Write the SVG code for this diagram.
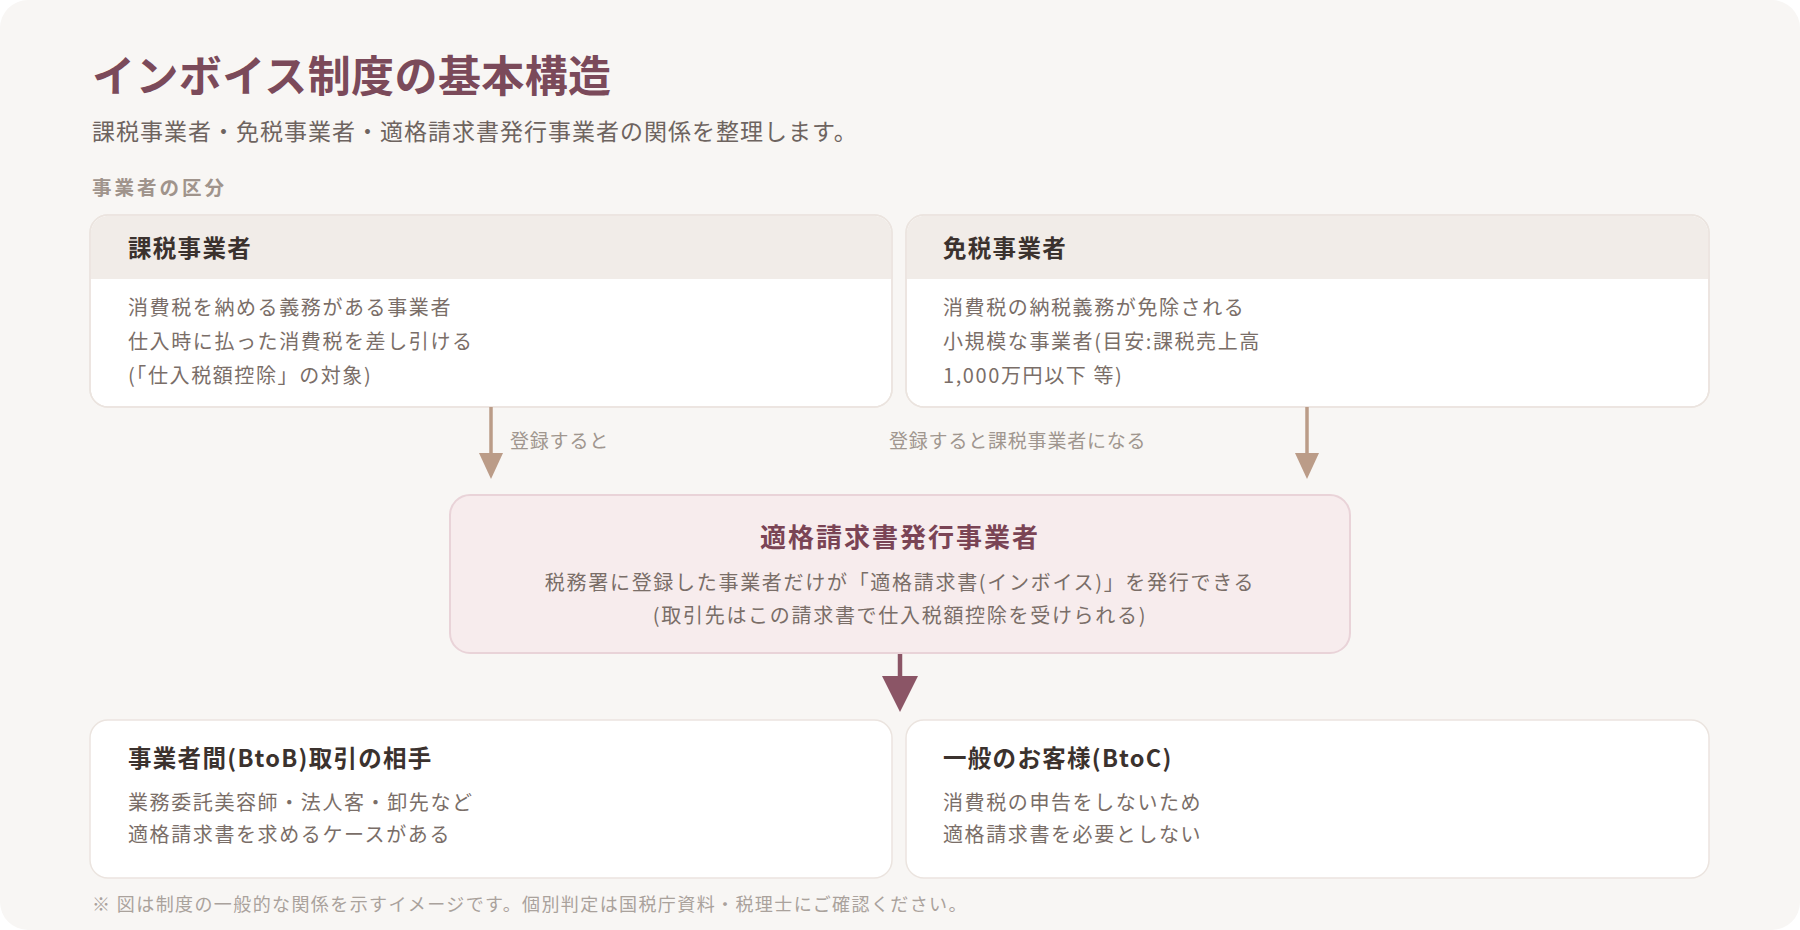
<svg xmlns="http://www.w3.org/2000/svg" width="1800" height="930" viewBox="0 0 1800 930">
  <defs>
    <style>
      text { font-family: "Noto Sans CJK JP", "Noto Sans", sans-serif; }
      .title { font-size: 43px; font-weight: 700; fill: #7b4a5a; letter-spacing: 0.4px; }
      .sub { font-size: 23px; fill: #6e6460; letter-spacing: 1px; }
      .sec { font-size: 19.5px; font-weight: 700; fill: #a0948c; letter-spacing: 3px; }
      .card { fill: #ffffff; stroke: #ebe4df; stroke-width: 1.5; }
      .band { fill: #f1ece8; }
      .head { font-size: 23.5px; font-weight: 700; fill: #3b322e; letter-spacing: 1.3px; }
      .body { font-size: 20px; fill: #7a6e68; letter-spacing: 1.6px; }
      .lbl { font-size: 19px; fill: #a0968f; letter-spacing: 0.8px; }
      .hub { fill: #f7eced; stroke: #e9d3d8; stroke-width: 2; }
      .hubt { font-size: 26px; font-weight: 700; fill: #7a4455; letter-spacing: 2px; }
      .hubb { font-size: 20px; fill: #7a6e68; letter-spacing: 1.7px; }
      .foot { font-size: 18px; fill: #aaa29c; letter-spacing: 1.4px; }
      .tan { stroke: #bb9c88; stroke-width: 3.5; fill: none; }
      .mauve { stroke: #8b5566; stroke-width: 4.5; fill: none; }
    </style>
    <marker id="tanHead" markerUnits="userSpaceOnUse" markerWidth="26" markerHeight="24" viewBox="0 0 26 24" refX="0" refY="12" orient="auto">
      <path d="M0,0 L26,12 L0,24 Z" fill="#bb9c88"/>
    </marker>
    <marker id="mauveHead" markerUnits="userSpaceOnUse" markerWidth="36" markerHeight="36" viewBox="0 0 36 36" refX="0" refY="18" orient="auto">
      <path d="M0,0 L36,18 L0,36 Z" fill="#8b5566"/>
    </marker>
  </defs>

  <rect x="0" y="0" width="1800" height="930" fill="#ffffff"/>
  <rect x="0" y="0" width="1800" height="930" rx="28" fill="#f8f6f4"/>

  <text class="title" x="92" y="92">インボイス制度の基本構造</text>
  <text class="sub" x="92" y="140">課税事業者・免税事業者・適格請求書発行事業者の関係を整理します。</text>
  <text class="sec" x="92" y="195">事業者の区分</text>

  <g id="node-taxable">
    <rect class="card" x="90" y="215" width="802" height="192" rx="18"/>
    <path class="band" d="M90.75,279 V233 A18,18 0 0 1 108,215.75 H874 A18,18 0 0 1 891.25,233 V279 Z"/>
    <rect x="90" y="215" width="802" height="192" rx="18" fill="none" stroke="#ebe4df" stroke-width="1.5"/>
    <text class="head" x="128" y="257">課税事業者</text>
    <text class="body" x="128" y="315">消費税を納める義務がある事業者</text>
    <text class="body" x="128" y="349">仕入時に払った消費税を差し引ける</text>
    <text class="body" x="128" y="383">(「仕入税額控除」の対象)</text>
  </g>

  <g id="node-exempt">
    <rect class="card" x="906" y="215" width="803" height="192" rx="18"/>
    <path class="band" d="M906.75,279 V233 A18,18 0 0 1 924,215.75 H1691 A18,18 0 0 1 1708.25,233 V279 Z"/>
    <rect x="906" y="215" width="803" height="192" rx="18" fill="none" stroke="#ebe4df" stroke-width="1.5"/>
    <text class="head" x="943" y="257">免税事業者</text>
    <text class="body" x="943" y="315">消費税の納税義務が免除される</text>
    <text class="body" x="943" y="349">小規模な事業者(目安:課税売上高</text>
    <text class="body" x="943" y="383">1,000万円以下 等)</text>
  </g>

  <g id="node-qualified">
    <rect class="hub" x="450" y="495" width="900" height="158" rx="20"/>
    <text class="hubt" x="900" y="547" text-anchor="middle">適格請求書発行事業者</text>
    <text class="hubb" x="900" y="590" text-anchor="middle">税務署に登録した事業者だけが「適格請求書(インボイス)」を発行できる</text>
    <text class="hubb" x="900" y="623" text-anchor="middle">(取引先はこの請求書で仕入税額控除を受けられる)</text>
  </g>

  <g id="node-btob">
    <rect class="card" x="90" y="720" width="802" height="158" rx="18"/>
    <text class="head" x="128" y="767">事業者間(BtoB)取引の相手</text>
    <text class="body" x="128" y="810">業務委託美容師・法人客・卸先など</text>
    <text class="body" x="128" y="842">適格請求書を求めるケースがある</text>
  </g>

  <g id="node-btoc">
    <rect class="card" x="906" y="720" width="803" height="158" rx="18"/>
    <text class="head" x="943" y="767">一般のお客様(BtoC)</text>
    <text class="body" x="943" y="810">消費税の申告をしないため</text>
    <text class="body" x="943" y="842">適格請求書を必要としない</text>
  </g>

  <g id="connectors">
    <path class="tan" d="M491,407 V453" marker-end="url(#tanHead)"/>
    <text class="lbl" x="510" y="448">登録すると</text>
    <path class="tan" d="M1307,407 V453" marker-end="url(#tanHead)"/>
    <text class="lbl" x="889" y="448">登録すると課税事業者になる</text>
    <path class="mauve" d="M900,654 V676" marker-end="url(#mauveHead)"/>
  </g>

  <text class="foot" x="92" y="911">※ 図は制度の一般的な関係を示すイメージです。個別判定は国税庁資料・税理士にご確認ください。</text>
</svg>
